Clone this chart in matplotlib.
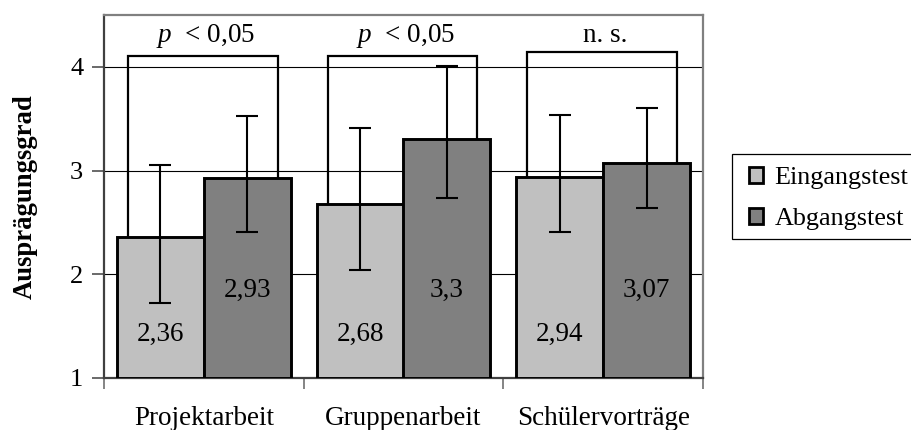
import matplotlib
matplotlib.use("Agg")
import matplotlib.pyplot as plt
from matplotlib.patches import Patch, Rectangle

plt.rcParams["font.family"] = ["Liberation Serif", "DejaVu Serif"]
plt.rcParams["mathtext.fontset"] = "custom"
plt.rcParams["mathtext.rm"] = "Liberation Serif"
plt.rcParams["mathtext.it"] = "Liberation Serif:italic"

# Data
categories = ["Projektarbeit", "Gruppenarbeit", "Schülervorträge"]
series_names = ["Eingangstest", "Abgangstest"]
eingang_mean = [2.36, 2.68, 2.94]
eingang_low = [1.72, 2.04, 2.41]
eingang_high = [3.05, 3.41, 3.54]
abgang_mean = [2.93, 3.30, 3.07]
abgang_low = [2.41, 2.74, 2.64]
abgang_high = [3.53, 4.01, 3.60]
bracket_level = [4.10, 4.10, 4.14]
significance = ["$p$  < 0,05", "$p$  < 0,05", "n. s."]
y_ticks = [1, 2, 3, 4]

colors = ["#c0c0c0", "#808080"]
fs = 19.5

fig = plt.figure(figsize=(9.11, 4.30), dpi=100)
ax = fig.add_axes([104 / 911, 1 - 378 / 430, 599 / 911, 363 / 430])

width = 0.435
xs = list(range(len(categories)))
x_e = [x - width / 2 for x in xs]
x_a = [x + width / 2 for x in xs]

ax.bar(x_e, [m - 1 for m in eingang_mean], bottom=1, width=width,
       color=colors[0], edgecolor="black", linewidth=2.1, zorder=3)
ax.bar(x_a, [m - 1 for m in abgang_mean], bottom=1, width=width,
       color=colors[1], edgecolor="black", linewidth=2.1, zorder=3)

for xpos, m, lo, hi in [(x_e, eingang_mean, eingang_low, eingang_high),
                        (x_a, abgang_mean, abgang_low, abgang_high)]:
    err = [[mi - l for mi, l in zip(m, lo)], [h - mi for mi, h in zip(m, hi)]]
    ax.errorbar(xpos, m, yerr=err, fmt="none", ecolor="black",
                elinewidth=1.5, capsize=8, capthick=1.5, zorder=4)

# value labels inside the bars
for i in xs:
    ax.text(x_e[i], 1.42, f"{eingang_mean[i]:g}".replace(".", ","),
            ha="center", va="center", fontsize=fs, zorder=5)
    ax.text(x_a[i], 1.84, f"{abgang_mean[i]:g}".replace(".", ","),
            ha="center", va="center", fontsize=fs, zorder=5)

# significance brackets
for i in xs:
    xl, xr = i - 0.38, i + 0.37
    top = bracket_level[i]
    ax.plot([xl, xl, xr, xr], [eingang_mean[i], top, top, abgang_mean[i]],
            color="black", linewidth=1.6, zorder=2.5, solid_joinstyle="miter")
    ax.text(i + 0.01, 4.235, significance[i], ha="center", va="baseline",
            fontsize=fs, zorder=5)

ax.set_xlim(-0.5, 2.5)
ax.set_ylim(1, 4.5)
ax.set_yticks(y_ticks)
ax.set_yticklabels([str(t) for t in y_ticks], fontsize=19)
ax.yaxis.grid(True, color="black", linewidth=0.8, zorder=0)
ax.set_axisbelow(True)

ax.set_xticks([-0.5, 0.5, 1.5, 2.5])
ax.set_xticklabels([])
ax.set_xticks(xs, minor=True)
ax.set_xticklabels(categories, minor=True, fontsize=fs)
ax.tick_params(axis="x", which="minor", length=0, pad=20.5)
ax.tick_params(axis="x", which="major", length=8, width=1.2, color="#707070")
ax.tick_params(axis="y", length=9, width=1.2, color="#505050", pad=6)

for s in ax.spines.values():
    s.set_color("#808080")
    s.set_linewidth(1.6)
ax.spines["left"].set_color("#404040")
ax.spines["bottom"].set_color("#404040")

ax.set_ylabel("Ausprägungsgrad", fontsize=19.2, fontweight="bold", labelpad=23)

# legend with its own box
fig.add_artist(Rectangle((732 / 911, 1 - 239 / 430), 200 / 911, 85 / 430,
                         transform=fig.transFigure, facecolor="white",
                         edgecolor="black", linewidth=0.9))
handles = [Patch(facecolor=c, edgecolor="black", linewidth=2.0) for c in colors]
leg = fig.legend(handles, series_names, loc="upper left",
                 bbox_to_anchor=(749 / 911, 1 - 167 / 430), fontsize=18.8,
                 frameon=False,
                 handlelength=0.55, handleheight=0.55, handletextpad=0.42,
                 borderpad=0.0, labelspacing=0.72, borderaxespad=0)

fig.savefig("out.png", dpi=100)
